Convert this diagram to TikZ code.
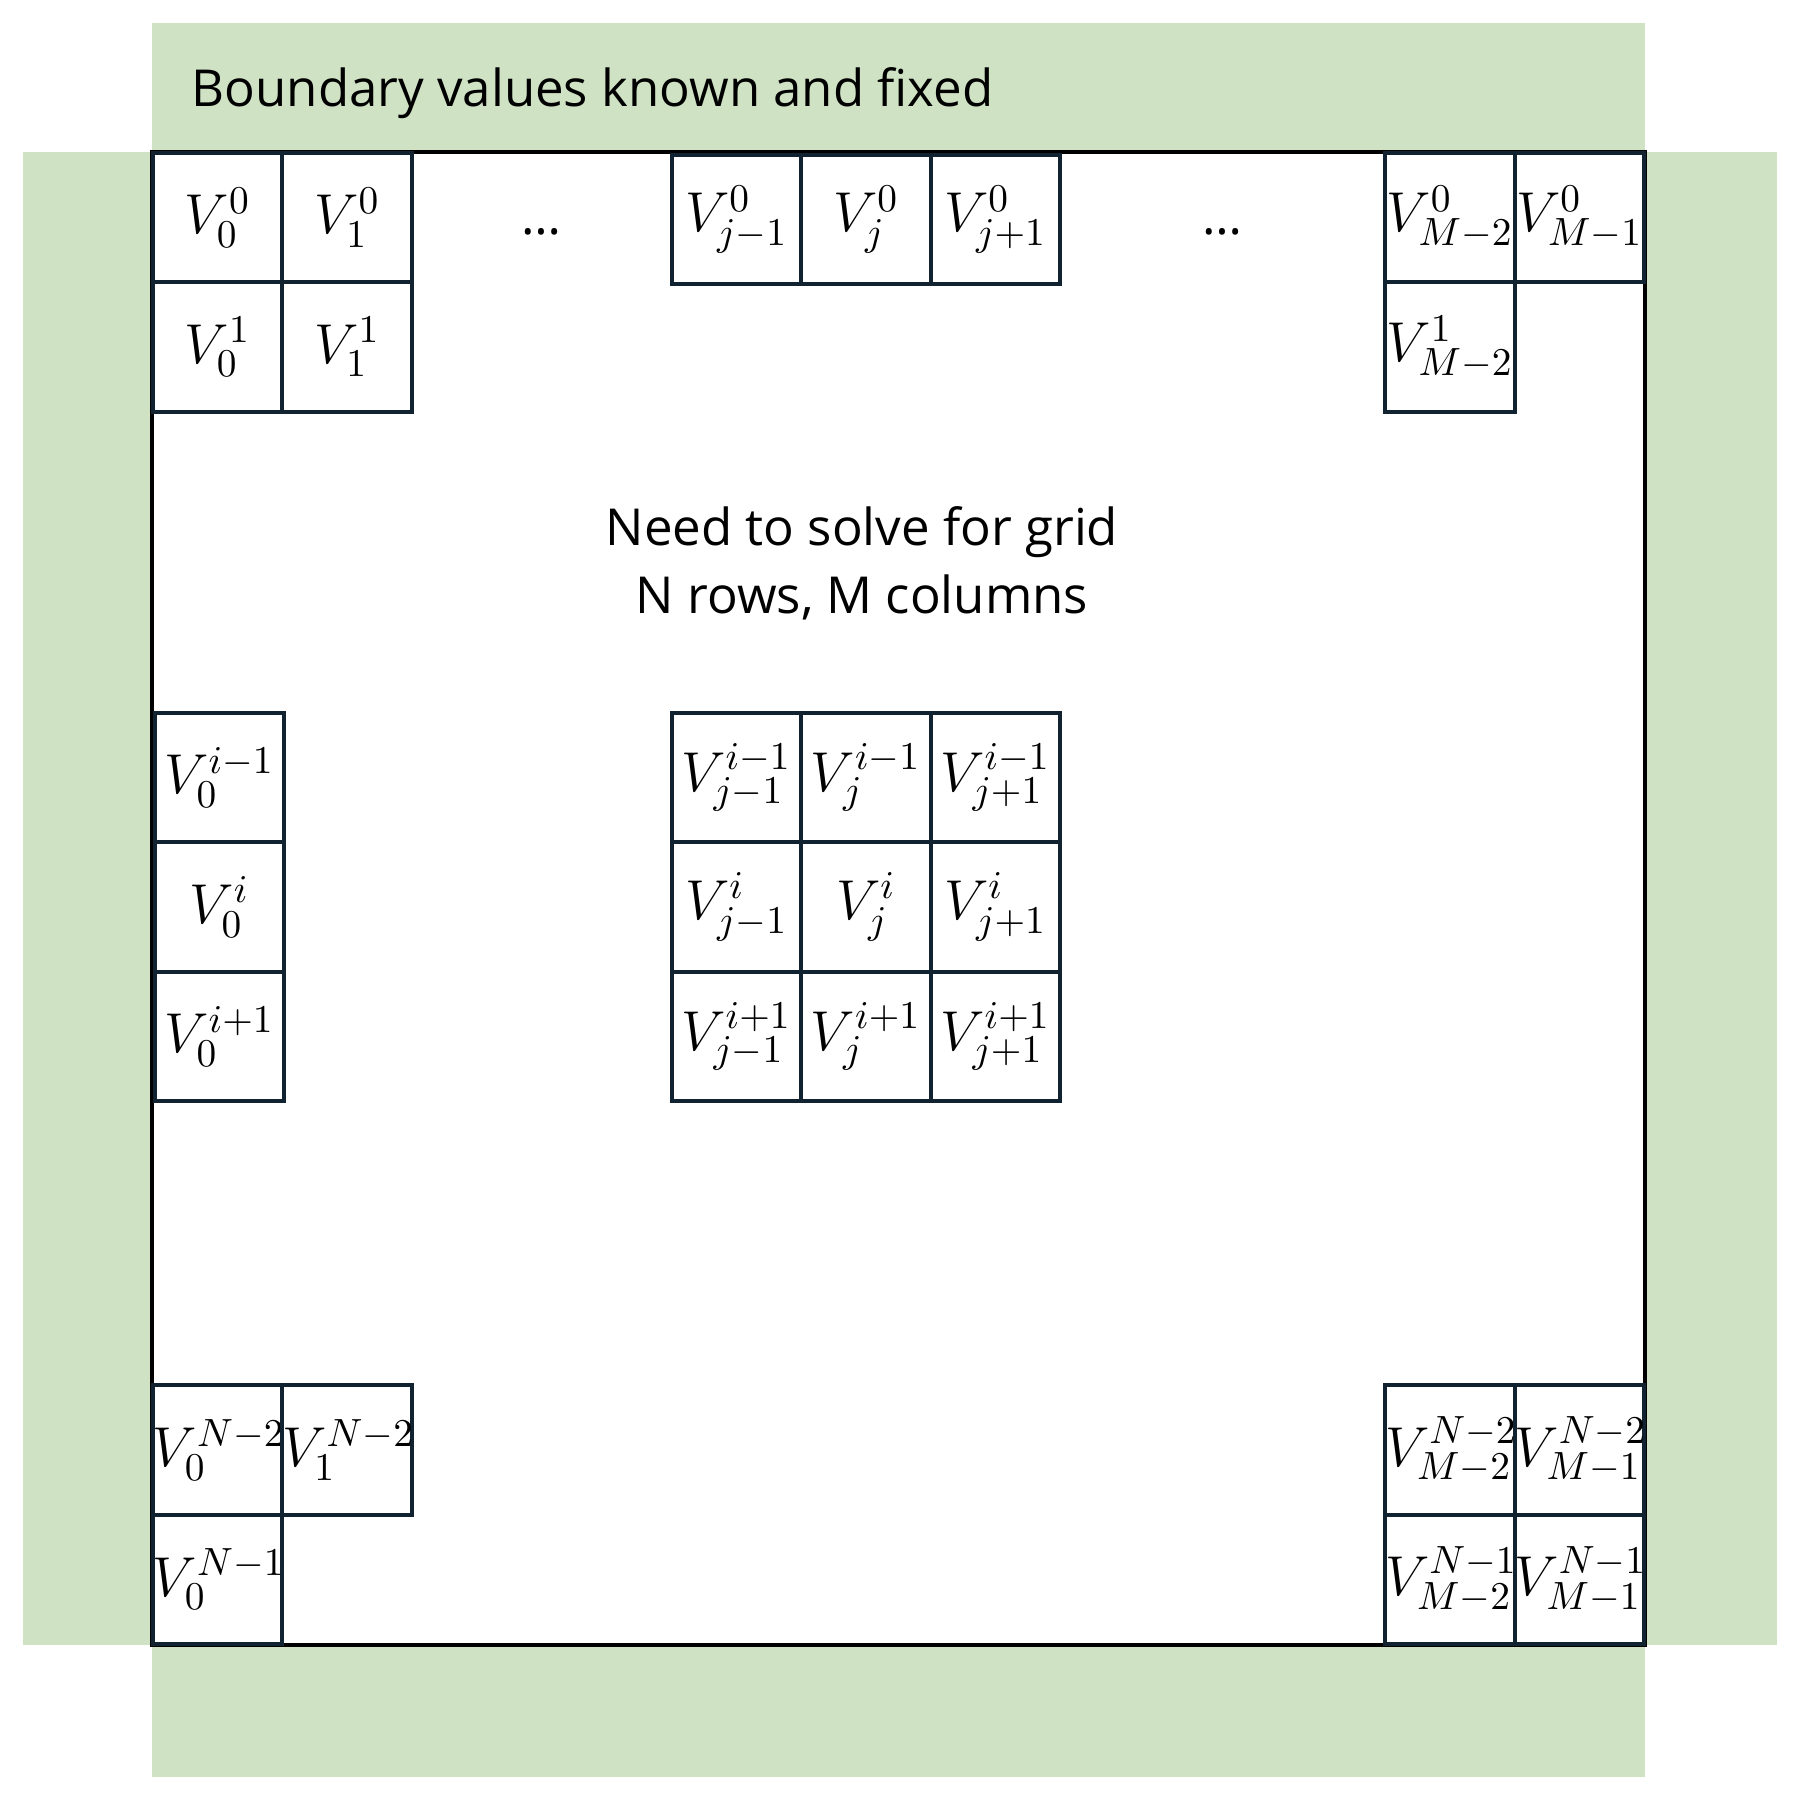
\RequirePackage{fix-cm}
\documentclass[tikz,border=0pt]{standalone}
\usepackage{fontspec}
\setmainfont{Open Sans}
\usetikzlibrary{matrix,calc}
\definecolor{bndgreen}{RGB}{207,226,196}
\definecolor{cellline}{RGB}{17,34,48}

\begin{document}
\begin{tikzpicture}[x=0.1mm,y=-0.1mm,
  boundary/.style={fill=bndgreen,draw=none},
  frame/.style={draw=black,fill=white,line width=1pt,inner sep=0pt,
    minimum width=149.3mm,minimum height=149.3mm},
  label text/.style={font=\fontsize{14.5}{19.3}\selectfont,inner sep=0pt},
  grid block/.style={matrix of math nodes,inner sep=0pt,
    column sep=-1.1pt,row sep=-1.1pt,
    nodes={draw=cellline,line width=1.1pt,text width=12.95mm,align=center,
      minimum height=12.95mm,inner sep=0pt,anchor=center,fill=white,
      font=\fontsize{16}{19}\selectfont}}]
 \useasboundingbox (0,0) rectangle (1802,1800);
 \fill[boundary] (152,23) rectangle (1645,152);
 \fill[boundary] (23,152) rectangle (152,1645);
 \fill[boundary] (1645,152) rectangle (1777,1645);
 \fill[boundary] (152,1645) rectangle (1645,1777);
 \node[frame] (domain) at (898.5,898.5) {};
 \node[label text,anchor=west] (bndtext) at (191,93) {Boundary values known and fixed};
 \node[label text,align=center] (task) at (862,563) {Need to solve for grid\\N rows, M columns};
 \matrix[grid block,anchor=north west](topleft) at (domain.north west){
  V^0_0 & V^0_1 \\
  V^1_0 & V^1_1 \\
 };
 \matrix[grid block,anchor=north west](topmid) at (669,152){
  V^0_{j-1} & V^0_j & V^0_{j+1} \\
 };
 \matrix[grid block,anchor=north east](topright) at (domain.north east){
  V^0_{M-2} & V^0_{M-1} \\
  V^1_{M-2} & \\
 };
 \matrix[grid block,anchor=north west](leftcol) at (152,710){
  V^{i-1}_0 \\
  V^i_0 \\
  V^{i+1}_0 \\
 };
 \matrix[grid block,anchor=north west](centre) at (669,710){
  V^{i-1}_{j-1} & V^{i-1}_j & V^{i-1}_{j+1} \\
  V^i_{j-1} & V^i_j & V^i_{j+1} \\
  V^{i+1}_{j-1} & V^{i+1}_j & V^{i+1}_{j+1} \\
 };
 \matrix[grid block,anchor=south west](botleft) at (domain.south west){
  V^{N-2}_0 & V^{N-2}_1 \\
  V^{N-1}_0 & \\
 };
 \matrix[grid block,anchor=south east](botright) at (domain.south east){
  V^{N-2}_{M-2} & V^{N-2}_{M-1} \\
  V^{N-1}_{M-2} & V^{N-1}_{M-1} \\
 };
 \node[label text,yshift=-1.3mm] (dotsl) at ($(topleft-1-2.east)!0.5!(topmid-1-1.west)$) {\dots};
 \node[label text,yshift=-1.3mm] (dotsr) at ($(topmid-1-3.east)!0.5!(topright-1-1.west)$) {\dots};
\end{tikzpicture}
\end{document}
